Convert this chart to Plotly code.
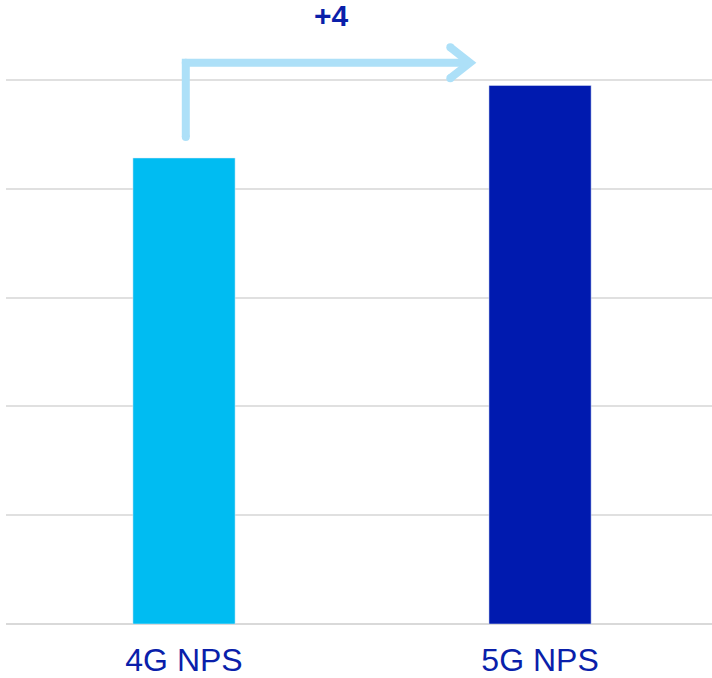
import plotly.graph_objects as go

categories = ["4G NPS", "5G NPS"]
values = [25.7, 29.7]
bar_colors = ["#00BCF2", "#001AAF"]
delta_label = "+4"
grid_vals = [0, 6, 12, 18, 24, 30]

text_color = "#0A1FAA"
arrow_color = "#ADE0F8"

fig = go.Figure()
fig.add_trace(go.Bar(
    x=[0, 1], y=values, marker_color=bar_colors, width=0.287,
    hoverinfo="skip", showlegend=False,
))

# arrow from 4G bar to 5G level
x0 = 0.005
x1 = 0.803
y_bot = values[0] + 1.15
y_top = values[1] + 1.25
hx = 0.055
fig.add_trace(go.Scatter(
    x=[x0, x0, x1], y=[y_bot, y_top, y_top], mode="lines",
    line=dict(color=arrow_color, width=8), hoverinfo="skip", showlegend=False,
))
fig.add_trace(go.Scatter(
    x=[x1 - hx, x1, x1 - hx], y=[y_top + 0.85, y_top, y_top - 0.85], mode="lines",
    line=dict(color=arrow_color, width=8), hoverinfo="skip", showlegend=False,
))
# round caps
fig.add_trace(go.Scatter(
    x=[x0, x0, x1 - hx, x1 - hx], y=[y_bot, y_top, y_top + 0.85, y_top - 0.85],
    mode="markers", marker=dict(color=arrow_color, size=8),
    hoverinfo="skip", showlegend=False,
))

fig.add_annotation(
    x=(x0 + x1) / 2 + 0.01, y=y_top + 2.6, xref="x", yref="y",
    text="<b>%s</b>" % delta_label, showarrow=False,
    font=dict(family="Liberation Sans, Arial", size=30, color=text_color),
)

fig.update_layout(
    width=712, height=678,
    margin=dict(l=6, r=0, t=10, b=54),
    plot_bgcolor="white", paper_bgcolor="white",
    xaxis=dict(
        range=[-0.5, 1.483], tickvals=[0, 1], ticktext=categories,
        showgrid=False, zeroline=False, showline=False, automargin=False,
        tickfont=dict(family="Liberation Sans, Arial", size=32, color=text_color),
        ticklabelstandoff=14,
    ),
    yaxis=dict(
        range=[0, 614 / (544 / 30)], tickvals=grid_vals, showticklabels=False,
        showgrid=True, gridcolor="#E0E0E0", gridwidth=2,
        zeroline=True, zerolinecolor="#D9D9D9", zerolinewidth=2,
    ),
)

fig.write_html("out.html")
